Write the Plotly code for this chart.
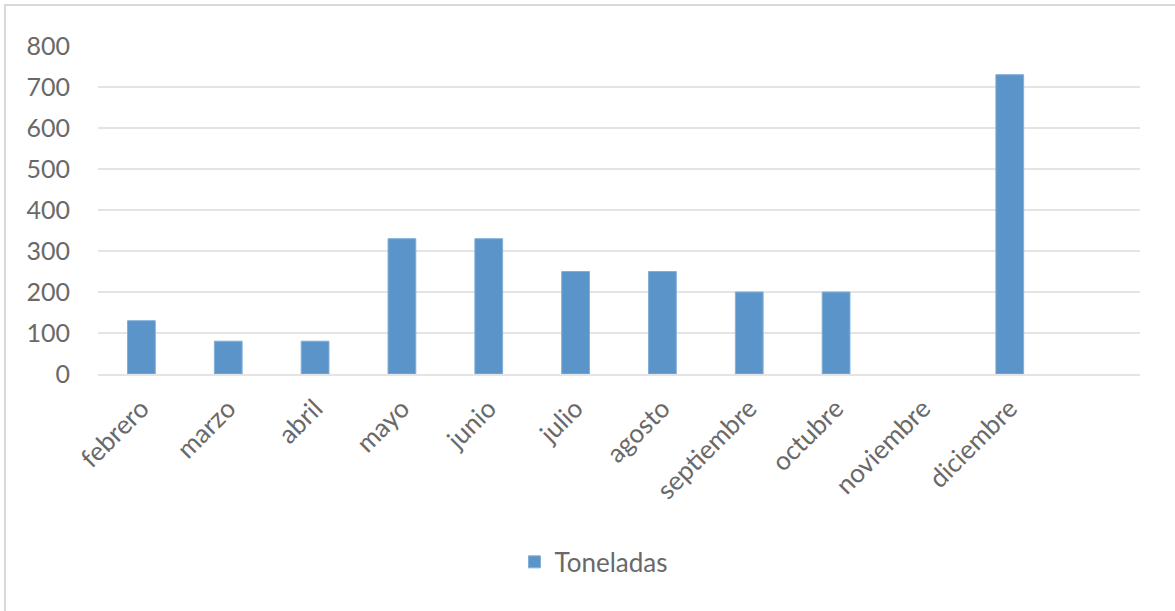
import plotly.graph_objects as go

# Monthly tonnage; the last slot on the axis is an unlabelled empty category
meses = ["febrero", "marzo", "abril", "mayo", "junio", "julio", "agosto",
         "septiembre", "octubre", "noviembre", "diciembre", " "]
toneladas = [130, 80, 80, 330, 330, 250, 250, 200, 200, None, 730, None]
y_ticks = [0, 100, 200, 300, 400, 500, 600, 700, 800]

FONT = "Lato, 'Open Sans', sans-serif"
TEXT_GRAY = "#696969"
GRID = "#e4e4e4"

fig = go.Figure()
fig.add_trace(go.Bar(
    x=meses,
    y=toneladas,
    name="Toneladas",
    marker=dict(color="#5b94c9", line=dict(color="#82afd9", width=1)),
))

fig.update_layout(
    width=1175,
    height=611,
    margin=dict(l=98, r=35, t=46, b=237),
    paper_bgcolor="white",
    plot_bgcolor="white",
    bargap=0.68,
    font=dict(family=FONT, size=24, color=TEXT_GRAY),
    showlegend=True,
    legend=dict(
        orientation="h",
        x=0.4755, xanchor="center",
        y=-0.573, yanchor="middle",
        font=dict(family=FONT, size=26, color=TEXT_GRAY),
        itemwidth=30,
    ),
    xaxis=dict(
        type="category",
        categoryorder="array",
        categoryarray=meses,
        tickangle=-45,
        showgrid=False,
        showline=True,
        linecolor=GRID,
        linewidth=2,
        ticks="",
        ticklabelstandoff=7,
        tickfont=dict(family=FONT, size=26, color=TEXT_GRAY),
    ),
    yaxis=dict(
        range=[0, 800],
        tickvals=y_ticks,
        showgrid=True,
        gridcolor=GRID,
        gridwidth=2,
        zeroline=False,
        showline=False,
        ticks="",
        ticklabelstandoff=27,
        tickfont=dict(family=FONT, size=25, color=TEXT_GRAY),
    ),
    shapes=[dict(
        type="rect",
        xref="paper", yref="paper",
        x0=-0.0893, x1=1.05,
        y0=-0.75, y1=1.125,
        line=dict(color="#d9d9d9", width=2),
        fillcolor="rgba(0,0,0,0)",
        layer="below",
    )],
)

fig.write_html("out.html")
